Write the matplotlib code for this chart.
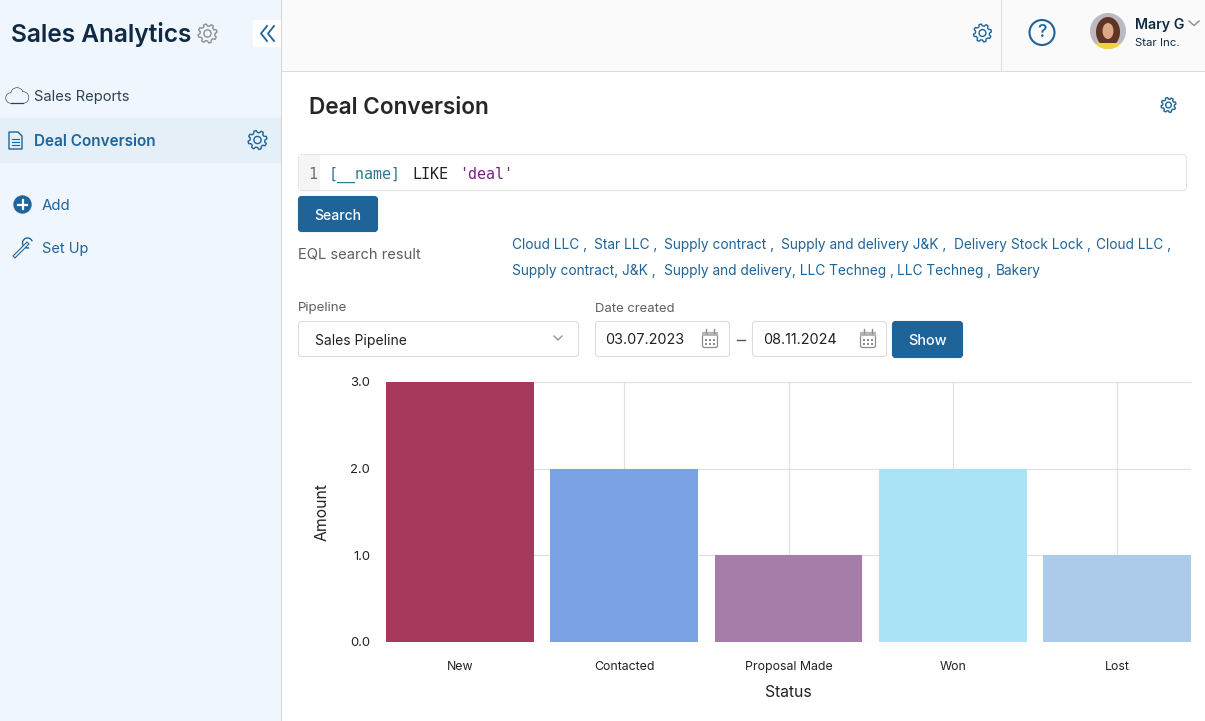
import numpy as np
import matplotlib.pyplot as plt
from matplotlib.patches import Rectangle, FancyBboxPatch, Circle, Ellipse, Polygon, Arc

plt.rcParams["font.family"] = ["Inter", "DejaVu Sans"]

# chart data
statuses = ["New", "Contacted", "Proposal Made", "Won", "Lost"]
amounts = [3, 2, 1, 2, 1]
bar_colors = ["#a6385c", "#7ba2e4", "#a57da8", "#aae2f6", "#accbeb"]
y_ticks = [0, 1, 2, 3]

# page texts
results_line1 = ["Cloud LLC", "Star LLC", "Supply contract", "Supply and delivery J&K", "Delivery Stock Lock", "Cloud LLC"]
results_x1 = [512, 594, 664, 781, 954, 1096]
results_line2 = ["Supply contract, J&K", "Supply and delivery, LLC Techneg", "LLC Techneg", "Bakery"]
results_x2 = [512, 664, 897, 996]

W, H = 1205, 721
BLUE = "#1f6499"
DARK = "#0f2a42"
GREY = "#5f5f5f"
LINE = "#dcdcdc"
SIDE = "#f0f6fe"

fig = plt.figure(figsize=(W / 100, H / 100), dpi=100, facecolor="white")

# full page overlay in pixel coordinates
page = fig.add_axes([0, 0, 1, 1])
page.set_xlim(0, W)
page.set_ylim(H, 0)
page.axis("off")


def txt(x, y, s, px, color="#222222", weight="normal", ha="left", family=None):
    kw = {"family": family} if family else {}
    return page.text(x, y + 3, s, fontsize=px * 0.72, color=color, fontweight=weight,
                     ha=ha, va="center", **kw)


def rect(x, y, w, h, color):
    page.add_patch(Rectangle((x, y), w, h, facecolor=color, edgecolor="none", linewidth=0))


def box(x, y, w, h, face="white", edge=LINE, lw=0.8, r=3):
    page.add_patch(FancyBboxPatch((x + r + 0.5, y + r + 0.5), w - 2 * r - 1, h - 2 * r - 1,
                                  boxstyle="round,pad=%d,rounding_size=%d" % (r, r),
                                  facecolor=face, edgecolor=edge, linewidth=lw))


def gear(cx, cy, r, color, lw=1.0):
    # outline of a cog with 8 teeth
    ang = np.linspace(0, 2 * np.pi, 48, endpoint=False) + np.pi / 8
    rad = np.where((np.arange(48) % 6) < 3, r, r * 0.78)
    page.add_patch(Polygon(np.c_[cx + rad * np.cos(ang), cy + rad * np.sin(ang)], closed=True,
                           fill=False, edgecolor=color, linewidth=lw, joinstyle="round"))
    page.add_patch(Circle((cx, cy), r * 0.38, fill=False, edgecolor=color, linewidth=lw))


def calendar(cx, cy):
    c = "#8c8c8c"
    box(cx - 8, cy - 7, 16, 16, face="white", edge=c, lw=0.9, r=2)
    rect(cx - 8, cy - 7, 16, 4, "#b5b5b5")
    page.plot([cx - 4, cx - 4], [cy - 10, cy - 6], color=c, lw=1)
    page.plot([cx + 4, cx + 4], [cy - 10, cy - 6], color=c, lw=1)
    for dy in (1, 5):
        for dx in (-4, 0, 4):
            rect(cx + dx - 1, cy + dy - 1, 2, 2, c)


# sidebar and top bar
rect(0, 0, 281, H, SIDE)
rect(282, 0, W - 282, 71, "#fafafa")
rect(281, 0, 1, H, "#d4d4d4")
rect(282, 71, W - 282, 1, LINE)
rect(1001, 0, 1, 71, LINE)

txt(11, 31.5, "Sales Analytics", 24.5, DARK, "semibold")
gear(207.5, 33.5, 9.5, "#8a8f94")
rect(253, 20, 28, 27, "white")
for dx in (0, 7):
    page.plot([267 + dx, 261 + dx, 267 + dx], [26, 33.5, 41], color=BLUE, lw=1.3)

# sidebar items
cloud = "#30414f"
parts = [((17, 94), 6), ((11, 98), 5), ((23, 97.5), 5.5)]
for c, r in parts:
    page.add_patch(Circle(c, r, fill=False, edgecolor=cloud, lw=0.9))
for c, r in parts:
    page.add_patch(Circle(c, r, facecolor=SIDE, edgecolor="none"))
rect(11, 96, 12, 7, SIDE)
page.plot([11, 23], [103, 103], color=cloud, lw=0.9)
txt(34, 94, "Sales Reports", 14.7, cloud)

rect(0, 118, 281, 45, "#e4eff7")
page.add_patch(Polygon([(9, 132), (18, 132), (22, 136), (22, 149), (9, 149)], closed=True,
                       fill=False, edgecolor=BLUE, lw=1))
for yy in (139, 142, 145):
    page.plot([12, 19], [yy, yy], color=BLUE, lw=0.8)
txt(34, 139, "Deal Conversion", 15.3, BLUE, "semibold")
gear(257.5, 140, 9.5, BLUE)

page.add_patch(Circle((22.5, 204.5), 8.5, color=BLUE))
page.plot([18, 27], [204.5, 204.5], color="white", lw=1.6)
page.plot([22.5, 22.5], [200, 209], color="white", lw=1.6)
txt(42, 203.5, "Add", 15, BLUE)
page.plot([15, 27], [256, 244], color=BLUE, lw=2.8)
page.plot([15, 27], [256, 244], color=SIDE, lw=1.2)
page.add_patch(Arc((27.5, 243), 10, 10, theta1=70, theta2=340, color=BLUE, lw=1))
txt(42, 246.5, "Set Up", 14.5, BLUE)

# top bar right side
gear(982.5, 33, 9, BLUE)
page.add_patch(Circle((1042, 32.5), 12.5, fill=False, edgecolor=BLUE, lw=1.5))
txt(1042, 29.5, "?", 18, BLUE, "medium", ha="center")

# avatar
clip = Circle((1108, 31), 18, facecolor="#bdb9c0", edgecolor="none")
page.add_patch(clip)
page.add_patch(Ellipse((1108, 32), 24, 30, facecolor="#5f3424", edgecolor="none"))
page.add_patch(Ellipse((1108, 31), 11, 16, facecolor="#dba989", edgecolor="none"))
shirt = Rectangle((1090, 43), 36, 7, facecolor="#f0d23c", edgecolor="none")
page.add_patch(shirt)
shirt.set_clip_path(clip)

txt(1135, 21.5, "Mary G", 14.2, DARK, "semibold")
page.plot([1189, 1194, 1199], [21, 25.5, 21], color="#8c8c8c", lw=1)
txt(1135, 40, "Star Inc.", 11.5, DARK)

# header
txt(309, 104.5, "Deal Conversion", 22.6, "#262626", "semibold")
gear(1168.5, 105, 7.5, BLUE)

# EQL editor
box(298, 154, 889, 37, face="white", edge="#e4e4e4", r=4)
rect(299, 155, 21, 35, "#f5f5f5")
MONO = "DejaVu Sans Mono"
txt(308, 171.5, "1", 15, "#6b6b6b", family=MONO)
txt(329, 171.5, "[__name]", 15, "#2a7a8c", family=MONO)
txt(412, 171.5, "LIKE", 15, "#222222", family=MONO)
txt(459, 171.5, "'deal'", 15, "#7a1f86", family=MONO)

box(298, 196, 80, 36, face=BLUE, edge=BLUE, r=3)
txt(338, 213, "Search", 14, "white", "medium", ha="center")

txt(298, 252.5, "EQL search result", 14.7, GREY)
for x, s in zip(results_x1, results_line1):
    txt(x, 242.5, s + " ,", 13.7, BLUE)
for i, (x, s) in enumerate(zip(results_x2, results_line2)):
    txt(x, 268.5, s + (" ," if i < len(results_line2) - 1 else ""), 13.7, BLUE)

# filters
txt(298, 305.5, "Pipeline", 13.3, GREY)
txt(595, 305.5, "Date created", 13, GREY)
box(298, 321, 281, 36)
txt(315, 337.5, "Sales Pipeline", 13.9, "#222222")
page.plot([554, 558, 562], [336, 340, 336], color="#8c8c8c", lw=0.9)
box(595, 321, 135, 36)
txt(605, 337.5, "03.07.2023", 14.4, "#222222")
calendar(710, 339)
page.plot([737, 745], [339.5, 339.5], color="#555555", lw=1)
box(752, 321, 135, 36)
txt(763, 337.5, "08.11.2024", 14.4, "#222222")
calendar(868, 339)
box(892, 321, 71, 37, face=BLUE, edge=BLUE, r=3)
txt(927.5, 338, "Show", 14.5, "white", "medium", ha="center")

# bar chart
ax_left, ax_right, ax_top, ax_bottom = 386, 1191, 382, 642
ax = fig.add_axes([ax_left / W, 1 - ax_bottom / H, (ax_right - ax_left) / W, (ax_bottom - ax_top) / H])
ax.patch.set_alpha(0)
x = np.arange(len(statuses))
ax.bar(x, amounts, width=0.9, color=bar_colors, zorder=3)
ax.set_xlim(-0.45, len(statuses) - 0.55)
ax.set_ylim(0, 3)
ax.set_xticks(x, statuses)
ax.set_yticks(y_ticks, ["%.1f" % v for v in y_ticks])
ax.grid(True, color="#e0e0e0", lw=0.9, zorder=0)
ax.set_axisbelow(True)
for s in ax.spines.values():
    s.set_visible(False)
ax.tick_params(length=0, labelcolor="#222222")
ax.tick_params(axis="x", pad=14, labelsize=8.9)
ax.tick_params(axis="y", pad=11.5, labelsize=9.4)
ax.set_xlabel("Status", fontsize=11.3, color="#222222", labelpad=8.5)
ax.set_ylabel("Amount", fontsize=11.3, color="#222222", labelpad=15)

plt.savefig("out.png", dpi=100)
